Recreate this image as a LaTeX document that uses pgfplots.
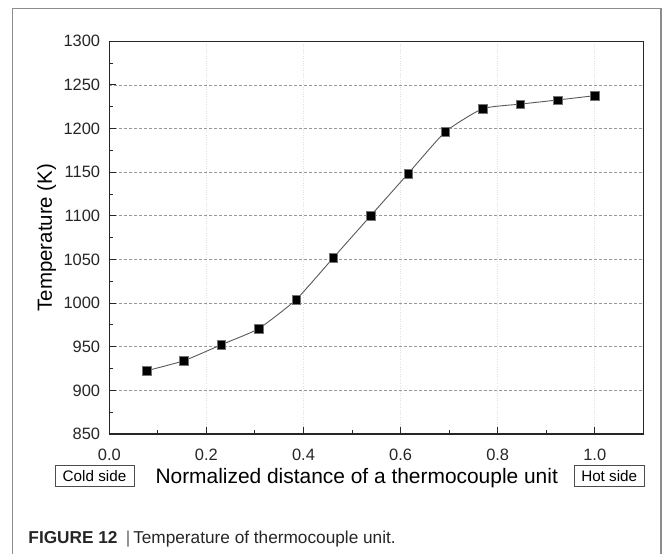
\documentclass[border=0pt]{standalone}
\usepackage{fontspec}
\setmainfont{Liberation Sans}
\usepackage{pgfplots}
\pgfplotsset{compat=1.18}
\begin{document}
\begin{tikzpicture}[x=1bp,y=1bp]
\useasboundingbox (0,0) rectangle (665,554);
\begin{scope}
\clip (0,0) rectangle (665,554);
\draw[line width=1.3bp, color=black!45] (12.7,-10) -- (12.7,545.7) -- (661,545.7) -- (661,-10);
\end{scope}
\begin{axis}[
  at={(109.3bp,120bp)}, anchor=south west,
  width=534bp, height=392.7bp, scale only axis,
  xmin=0, xmax=1.1, ymin=850, ymax=1300,
  xtick={0,0.2,0.4,0.6,0.8,1.0}, minor x tick num=1,
  ytick={850,900,950,1000,1050,1100,1150,1200,1250,1300}, minor y tick num=1,
  xticklabel style={yshift=-11.5bp, /pgf/number format/.cd, fixed, fixed zerofill, precision=1},
  yticklabel style={xshift=-5.7bp, /pgf/number format/.cd, fixed, 1000 sep={}},
  /pgf/number format/assume math mode=true,
  tick label style={font=\fontsize{16.5}{19}\selectfont, color=black!85},
  tick align=inside, tick pos=left,
  major tick length=6.7bp, minor tick length=3.5bp,
  every tick/.append style={line width=1bp, color=black!85},
  axis line style={line width=1.3bp, color=black!85},
  xmajorgrids, ymajorgrids,
  every axis x grid/.append style={color=black!12, dotted, line width=0.8bp},
  every axis y grid/.append style={color=black!40, dash pattern=on 2.5bp off 2.5bp, line width=0.8bp},
  xlabel={Normalized distance of a thermocouple unit},
  xlabel style={at={(axis description cs:0.4633,0)}, anchor=base, yshift=-49.3bp, font=\fontsize{21}{24}\selectfont, inner sep=0pt},
  ylabel={Temperature (K)},
  ylabel style={at={(axis description cs:-0.1172,0.5)}, anchor=center, font=\fontsize{20.5}{24}\selectfont, inner sep=0pt},
]
\addplot[color=black!65, line width=0.9bp, smooth, tension=0.3,
  mark=square*, mark size=4.3bp,
  mark options={fill=black, draw=black!55, line width=0.4bp, solid}]
  coordinates {
  (0.07692,922.5) (0.15385,934.0) (0.23077,952.3) (0.30769,970.7)
  (0.38462,1003.9) (0.46154,1052.0) (0.53846,1100.2) (0.61538,1148.3)
  (0.69231,1196.4) (0.76923,1222.8) (0.84615,1228.0) (0.92308,1232.7)
  (1.0,1237.7)};
\end{axis}
\node[draw=black!70, line width=0.9bp, font=\fontsize{15.3}{18}\selectfont, inner xsep=6bp, inner ysep=0pt, minimum width=79bp, minimum height=20.7bp] at (94.5,77.7) {Cold side};
\node[draw=black!70, line width=0.9bp, font=\fontsize{15.3}{18}\selectfont, inner xsep=6bp, inner ysep=0pt, minimum width=69.7bp, minimum height=20.7bp] at (609.2,78.2) {Hot side};
\node[anchor=base west, inner sep=0pt, font=\fontsize{17.3}{20}\selectfont, color=black!85] at (28.3,10) {\textbf{FIGURE 12}\hspace{8.4bp}{\color{black!60}|}\hspace{2.8bp}Temperature of thermocouple unit.};
\end{tikzpicture}
\end{document}
